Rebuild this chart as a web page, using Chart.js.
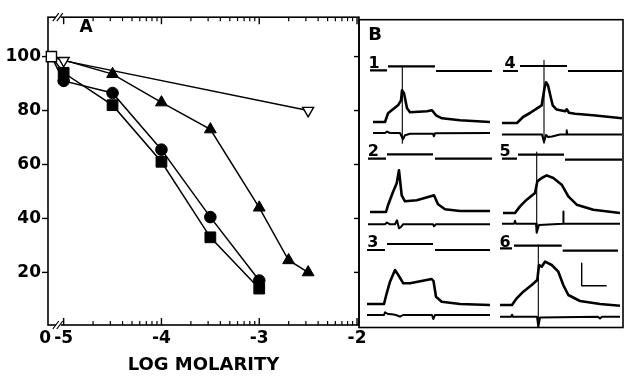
<!DOCTYPE html>
<html><head><meta charset="utf-8">
<script src="https://cdn.jsdelivr.net/npm/chart.js@4/dist/chart.umd.min.js"></script>
<style>
html,body{margin:0;padding:0;background:#fff;}
#wrap{position:relative;width:628px;height:379px;overflow:hidden;background:#fff;}
#wrap canvas{position:absolute;}
</style></head><body>
<div id="wrap">
<canvas id="cA" width="628" height="379" style="left:0;top:0"></canvas>
<canvas id="r1" width="126" height="97" style="left:367px;top:50px"></canvas>
<canvas id="r2" width="126" height="97" style="left:367px;top:140px"></canvas>
<canvas id="r3" width="126" height="97" style="left:367px;top:232px"></canvas>
<canvas id="r4" width="126" height="97" style="left:500px;top:51px"></canvas>
<canvas id="r5" width="126" height="97" style="left:500px;top:141px"></canvas>
<canvas id="r6" width="126" height="97" style="left:500px;top:233px"></canvas>
</div>
<script>
// ---------------- Panel A data (log molarity vs % response) ----------------
const controlLogM = -5.125;   // "0" (control) position on the broken axis
const controlVal = 100;
const squareLogM = [-5, -4.5, -4, -3.5, -3];
const squareVals = [94, 82, 61, 33, 14];
const circleLogM = [-5, -4.5, -4, -3.5, -3];
const circleVals = [91, 86.5, 65.5, 40.5, 17];
const triLogM = [-4.5, -4, -3.5, -3, -2.7, -2.5];
const triVals = [93.5, 83, 73, 44, 24.5, 20];
const openTriLogM = [-5, -2.5];
const openTriVals = [98.5, 80];
const yTickVals = [20, 40, 60, 80, 100];
const majorLogM = [-5, -4, -3, -2];
const xMin = -5.16, xMax = -1.98;
const breakLogM = -5.06;
const minorLogM = [];
for (let d = -5; d < -2; d++) for (let k = 2; k <= 9; k++) minorLogM.push(d + Math.log10(k));

// ---------------- Panel B traces: [time, value] ----------------
const rec1Stim = [[3,51.7],[20,51.7],[20,null],[21,55.7],[68,55.7],[68,null],[69,51],[125,51]];
const rec1Volt = [[6,0],[18,0],[21,8.7],[26,12.7],[31,16.7],[34,21.7],[35,31.7],[37,28.7],[40,13.7],[43,9.7],[60,10.7],[65,11.7],[69,6.7],[75,3.7],[93,1.7],[123,0]];
const rec1Curr = [[6,-11],[18,-11],[20,-9.6],[23,-11],[33,-11],[36,-17.3],[38,-13.3],[43,-11.8],[66,-11.8],[67,-14.3],[68,-11.3],[123,-11]];
const rec1Spike = [[35.3,55.7],[35.3,-21.3]];

const rec2Stim = [[1,53.4],[19,53.4],[19,null],[20,57.7],[66,57.7],[66,null],[68,53.4],[125,53.4]];
const rec2Volt = [[3,0],[19,0],[21,6.7],[26,20],[29.7,28.7],[32,41.7],[34.7,16.7],[38,10.7],[49.7,11.7],[64.7,16],[67,16.7],[71,7.7],[78,2.7],[93,1],[123,1]];
const rec2Curr = [[1,-12.3],[18,-12.3],[20,-10.6],[23,-12.3],[28,-12.3],[30,-8.3],[32,-16.3],[34,-15],[36,-12.3],[66,-12.3],[67,-14.3],[69,-12.3],[123,-12.3]];

const rec3Stim = [[0,54],[18,54],[18,null],[20,60],[66,60],[66,null],[68,54],[123,54]];
const rec3Volt = [[0,0],[17,0],[19.7,10.7],[23,22.3],[28,34],[31.3,29],[36.3,20.7],[43,20.7],[64.7,25],[66.5,23],[69,7.3],[74.7,2.3],[93,0],[123,-1]];
const rec3Curr = [[0,-11],[17,-11],[18,-8.3],[21,-10],[25,-10.3],[29,-11],[33,-12.7],[36,-11],[65,-11],[66.3,-15],[68,-11],[123,-11]];

const rec4Stim = [[3,52],[18,52],[18,null],[20,57],[67,57],[67,null],[68,52],[122,52]];
const rec4Volt = [[2,0],[17,0],[23,6],[30,10],[37,14.7],[41.7,17.7],[44.5,34.7],[46,40.7],[48,37.7],[50.7,26],[52.7,17.7],[56.7,13.4],[65,11.7],[66.7,13.7],[69,10.2],[75,9.2],[93,7.7],[122,4.7]];
const rec4Curr = [[2,-11.6],[42,-11.6],[44,-19],[46,-12],[48,-14],[52,-13.5],[56,-12.5],[60,-11.6],[66,-11.6],[66.7,-7.3],[67.4,-11.6],[122,-11.6]];
const rec4Spike = [[44,62.7],[44,-20.3]];

const rec5Stim = [[2,54.3],[17,54.3],[17,null],[18,58.3],[64,58.3],[64,null],[65,53.3],[122,53.3]];
const rec5Volt = [[3,0],[15,0],[20,6.6],[26.7,13.3],[35,20],[37.3,31.6],[41.7,35],[46.7,37.6],[53.3,35],[61.7,28.3],[68.3,16.6],[76.7,8.3],[93.3,3.3],[120,0]];
const rec5Curr = [[2,-10.7],[14,-10.7],[15,-7.7],[16,-10.7],[36,-10.7],[36.7,-19.7],[39,-12],[63,-10.7],[63.3,1.6],[63.6,-10.7],[120,-10.7]];
const rec5Spike = [[36.7,61],[36.7,-19.7]];

const rec6Stim = [[0,56.7],[12,56.7],[12,null],[14,59.3],[61.7,59.3],[61.7,null],[62.7,54.3],[118,54.3]];
const rec6Volt = [[0,0],[12,0],[16.7,6.7],[23.3,13.3],[31.7,20],[37.3,25],[39,40],[41.7,38.3],[45,43.3],[51.7,40],[58.3,33.3],[63.3,20],[68.3,10],[80,4],[100,1],[120,-0.7]];
const rec6Curr = [[0,-11.7],[11,-11.7],[12,-9.7],[13,-11.7],[37,-11.7],[38.3,-21.7],[40,-12.5],[98,-11.7],[100,-13.5],[102,-11.7],[120,-11.7]];
const rec6Spike = [[38.3,60],[38.3,-21.7]];
const scaleBar = [[81.7,41.7],[81.7,19.3],[106.7,19.3]];

const recLabels = ['1','2','3','4','5','6'];
const recLabelAt = [[7,58.4],[6.3,60],[5.7,60.7],[10,59.4],[5,61.6],[5,62.3]];

// ---------------- Panel A chart ----------------
const FONT = '"DejaVu Sans", "Liberation Sans", sans-serif';
function withControl(xs, ys) {
  return [{x: controlLogM, y: controlVal}].concat(xs.map((x, i) => ({x, y: ys[i]})));
}
function radii(n, r) { return [0].concat(new Array(n).fill(r)); }

const panelA = {
  id: 'panelA',
  beforeDatasetsDraw(chart) {
    const {ctx, chartArea: a, scales: {x, y}} = chart;
    const seg = (x1, y1, x2, y2, w) => { ctx.lineWidth = w; ctx.beginPath(); ctx.moveTo(x1, y1); ctx.lineTo(x2, y2); ctx.stroke(); };
    ctx.save();
    ctx.strokeStyle = '#000';
    ctx.lineWidth = 1.6;
    ctx.strokeRect(a.left, a.top, a.right - a.left, a.bottom - a.top);
    ctx.strokeRect(a.right, a.top + 2.5, 623 - a.right, a.bottom - a.top);
    yTickVals.forEach(v => { const p = y.getPixelForValue(v); seg(a.left - 6, p, a.left, p, 1.4); seg(a.right - 5, p, a.right, p, 1.4); });
    majorLogM.forEach(v => { const p = x.getPixelForValue(v); seg(p, a.bottom, p, a.bottom - 7, 1.4); seg(p, a.top, p, a.top + 7, 1.4); });
    minorLogM.forEach(v => { const p = x.getPixelForValue(v); seg(p, a.bottom, p, a.bottom - 4, 1.2); seg(p, a.top, p, a.top + 4, 1.2); });
    const bx = x.getPixelForValue(breakLogM);
    [a.top, a.bottom].forEach(yy => {
      ctx.fillStyle = '#fff'; ctx.fillRect(bx - 2, yy - 2, 5, 4);
      seg(bx - 5, yy + 4, bx + 1, yy - 4, 1.2);
      seg(bx - 1, yy + 4, bx + 5, yy - 4, 1.2);
    });
    ctx.restore();
  },
  afterDraw(chart) {
    const {ctx, chartArea: a} = chart;
    ctx.save();
    ctx.fillStyle = '#000';
    ctx.textAlign = 'center'; ctx.textBaseline = 'middle';
    ctx.font = 'bold 17px ' + FONT;
    ctx.fillText('A', a.left + 38, a.top + 10);
    ctx.font = 'bold 18px ' + FONT;
    ctx.fillText('B', a.right + 16, a.top + 18);
    ctx.restore();
  }
};

const lineBase = {showLine: true, borderColor: '#000', borderWidth: 1.5, clip: false, tension: 0,
  pointBackgroundColor: '#000', pointBorderColor: '#000', pointBorderWidth: 1};

new Chart(document.getElementById('cA'), {
  type: 'scatter',
  data: {datasets: [
    {label: 'control', data: [{x: controlLogM, y: controlVal}], showLine: false, clip: false,
     pointStyle: 'rect', pointRadius: 7.2, pointBackgroundColor: '#fff', pointBorderColor: '#000', pointBorderWidth: 1.4},
    Object.assign({}, lineBase, {label: 'open triangles', data: withControl(openTriLogM, openTriVals),
     pointStyle: 'triangle', pointRotation: 180, pointRadius: radii(openTriLogM.length, 6.3),
     pointBackgroundColor: '#fff', pointBorderWidth: 1.4}),
    Object.assign({}, lineBase, {label: 'triangles', data: withControl(triLogM, triVals),
     pointStyle: 'triangle', pointRadius: radii(triLogM.length, 6.8)}),
    Object.assign({}, lineBase, {label: 'circles', data: withControl(circleLogM, circleVals),
     pointStyle: 'circle', pointRadius: radii(circleLogM.length, 5.8)}),
    Object.assign({}, lineBase, {label: 'squares', data: withControl(squareLogM, squareVals),
     pointStyle: 'rect', pointRadius: radii(squareLogM.length, 7.6)})
  ]},
  options: {
    responsive: false, animation: false, events: [],
    layout: {padding: {left: 0, top: 14, right: 269, bottom: 0}},
    plugins: {legend: {display: false}, tooltip: {enabled: false}},
    scales: {
      x: {type: 'linear', position: 'bottom', min: xMin, max: xMax,
        grid: {display: false, drawTicks: false}, border: {display: false},
        afterBuildTicks: s => { s.ticks = [xMin].concat(majorLogM, minorLogM).sort((p, q) => p - q).map(v => ({value: v})); },
        afterFit: s => { s.height = 54; },
        ticks: {autoSkip: false, maxRotation: 0, minRotation: 0, padding: 3, color: '#000',
          font: {family: FONT, weight: 'bold', size: 17},
          callback: v => (v === xMin ? '0 ' : (majorLogM.includes(v) ? String(v) : ''))},
        title: {display: true, text: 'LOG MOLARITY', color: '#000', font: {family: FONT, weight: 'bold', size: 18}, padding: {top: 0, bottom: 3}}
      },
      y: {type: 'linear', position: 'left', min: 0.5, max: 114.6,
        grid: {display: false, drawTicks: false}, border: {display: false},
        afterBuildTicks: s => { s.ticks = yTickVals.map(v => ({value: v})); },
        afterFit: s => { s.width = 48; },
        ticks: {padding: 7, color: '#000', font: {family: FONT, weight: 'bold', size: 17}, callback: v => String(v)}
      }
    }
  },
  plugins: [panelA]
});

// ---------------- Panel B charts ----------------
function recChart(id, traces, label, labelAt) {
  new Chart(document.getElementById(id), {
    type: 'scatter',
    data: {datasets: traces.map(t => ({data: t[0], showLine: true, borderColor: '#000', borderWidth: t[1],
      pointRadius: 0, clip: false, tension: 0, spanGaps: false, borderJoinStyle: 'round'}))},
    options: {
      responsive: false, animation: false, events: [],
      layout: {padding: 0},
      plugins: {legend: {display: false}, tooltip: {enabled: false}},
      scales: {x: {type: 'linear', display: false, min: 0, max: 126}, y: {type: 'linear', display: false, min: -25, max: 72}}
    },
    plugins: [{id: 'recLabel', afterDraw(c) {
      const {ctx, scales: {x, y}} = c;
      ctx.save(); ctx.fillStyle = '#000'; ctx.font = 'bold 16px ' + FONT;
      ctx.textAlign = 'center'; ctx.textBaseline = 'middle';
      ctx.fillText(label, x.getPixelForValue(labelAt[0]), y.getPixelForValue(labelAt[1]));
      ctx.restore();
    }}]
  });
}
recChart('r1', [[rec1Stim, 2.2], [rec1Volt, 2.6], [rec1Curr, 2], [rec1Spike, 1.1]], recLabels[0], recLabelAt[0]);
recChart('r2', [[rec2Stim, 2.2], [rec2Volt, 2.6], [rec2Curr, 2]], recLabels[1], recLabelAt[1]);
recChart('r3', [[rec3Stim, 2.2], [rec3Volt, 2.6], [rec3Curr, 2]], recLabels[2], recLabelAt[2]);
recChart('r4', [[rec4Stim, 2.2], [rec4Volt, 2.6], [rec4Curr, 2], [rec4Spike, 1.1]], recLabels[3], recLabelAt[3]);
recChart('r5', [[rec5Stim, 2.2], [rec5Volt, 2.6], [rec5Curr, 2], [rec5Spike, 1.1]], recLabels[4], recLabelAt[4]);
recChart('r6', [[rec6Stim, 2.2], [rec6Volt, 2.6], [rec6Curr, 2], [rec6Spike, 1.1], [scaleBar, 1.4]], recLabels[5], recLabelAt[5]);
</script>
</body></html>
